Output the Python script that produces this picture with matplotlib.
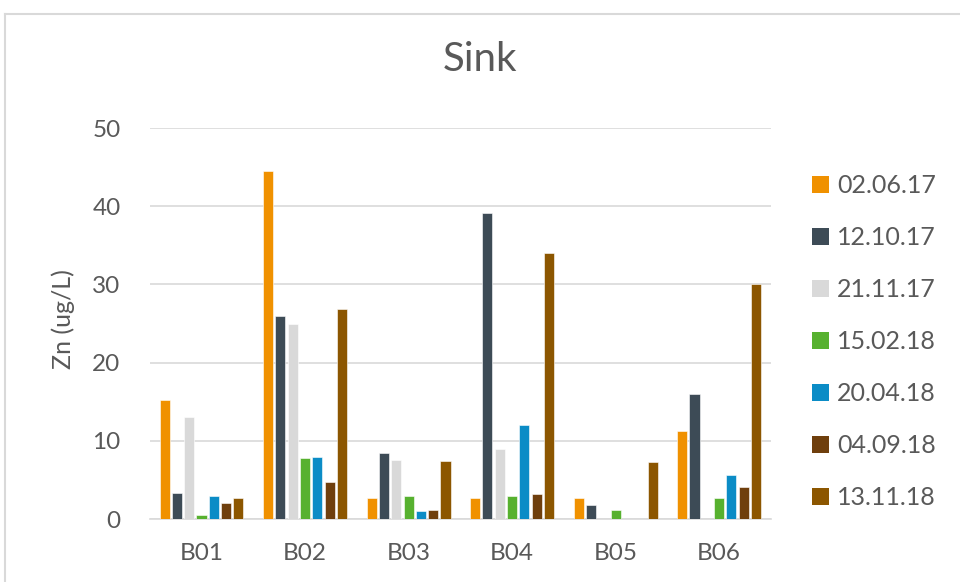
import numpy as np
import matplotlib
matplotlib.use("Agg")
import matplotlib.pyplot as plt
from matplotlib.patches import Patch

plt.rcParams['font.family'] = ['Lato', 'DejaVu Sans']

sites = ['B01', 'B02', 'B03', 'B04', 'B05', 'B06']
dates = ['02.06.17', '12.10.17', '21.11.17', '15.02.18', '20.04.18', '04.09.18', '13.11.18']
colors = ['#F09100', '#3D4B56', '#D9D9D9', '#57B12F', '#0B8CC6', '#6F3F0D', '#8C5600']

# Zn per site, one list per sampling date
zn_020617 = [15.2, 44.5, 2.7, 2.7, 2.7, 11.25]
zn_121017 = [3.3, 26.0, 8.4, 39.1, 1.75, 16.0]
zn_211117 = [13.0, 25.0, 7.6, 8.95, 0, 0]
zn_150218 = [0.55, 7.75, 3.0, 3.0, 1.2, 2.7]
zn_200418 = [3.0, 7.9, 1.05, 12.0, 0, 5.65]
zn_040918 = [2.05, 4.7, 1.2, 3.2, 0, 4.05]
zn_131118 = [2.7, 26.9, 7.45, 34.0, 7.25, 30.0]
series = [zn_020617, zn_121017, zn_211117, zn_150218, zn_200418, zn_040918, zn_131118]

text_col = '#595959'

fig = plt.figure(figsize=(9.6, 5.82), dpi=100)
ax = fig.add_axes([0.156, 0.1082, 0.647, 0.6718])

x = np.arange(len(sites))
slot = 0.119
width = 0.097
for i, (vals, c) in enumerate(zip(series, colors)):
    off = (i - 3) * slot
    ax.bar(x + off, vals, width=width, color=c, edgecolor='white', linewidth=0.4, zorder=3)

ax.set_xlim(-0.5, 5.5)
ax.set_ylim(0, 50)
ax.set_yticks([0, 10, 20, 30, 40, 50])
ax.set_xticks(x)
ax.set_xticklabels(sites)
ax.yaxis.grid(True, color='#D9D9D9', linewidth=1.2, zorder=0)
ax.set_axisbelow(True)
for s in ['top', 'right', 'left']:
    ax.spines[s].set_visible(False)
ax.spines['bottom'].set_color('#D9D9D9')
ax.spines['bottom'].set_linewidth(1.2)
ax.tick_params(axis='both', length=0, labelsize=17.5, colors=text_col)
ax.tick_params(axis='y', pad=21)
ax.tick_params(axis='x', pad=17)

fig.text(63 / 960, 1 - 319 / 582, 'Zn (ug/L)', rotation=90, ha='center', va='center',
         fontsize=18, color=text_col)
fig.text(0.5, 0.897, 'Sink', ha='center', va='center', fontsize=29, color=text_col)

handles = [Patch(facecolor=c, edgecolor='none') for c in colors]
fig.legend(handles, dates, loc='center left', bbox_to_anchor=(0.822, 0.413),
           frameon=False, fontsize=18, labelcolor=text_col,
           handlelength=0.68, handleheight=0.68, handletextpad=0.35,
           labelspacing=1.16)

# outer frame lines
fig.add_artist(plt.Line2D([5 / 960, 1], [1 - 14 / 582, 1 - 14 / 582],
                          transform=fig.transFigure, color='#D9D9D9', linewidth=1.5))
fig.add_artist(plt.Line2D([5 / 960, 5 / 960], [0, 1 - 14 / 582],
                          transform=fig.transFigure, color='#D9D9D9', linewidth=1.5))

fig.savefig('out.png', dpi=100, facecolor='white')
